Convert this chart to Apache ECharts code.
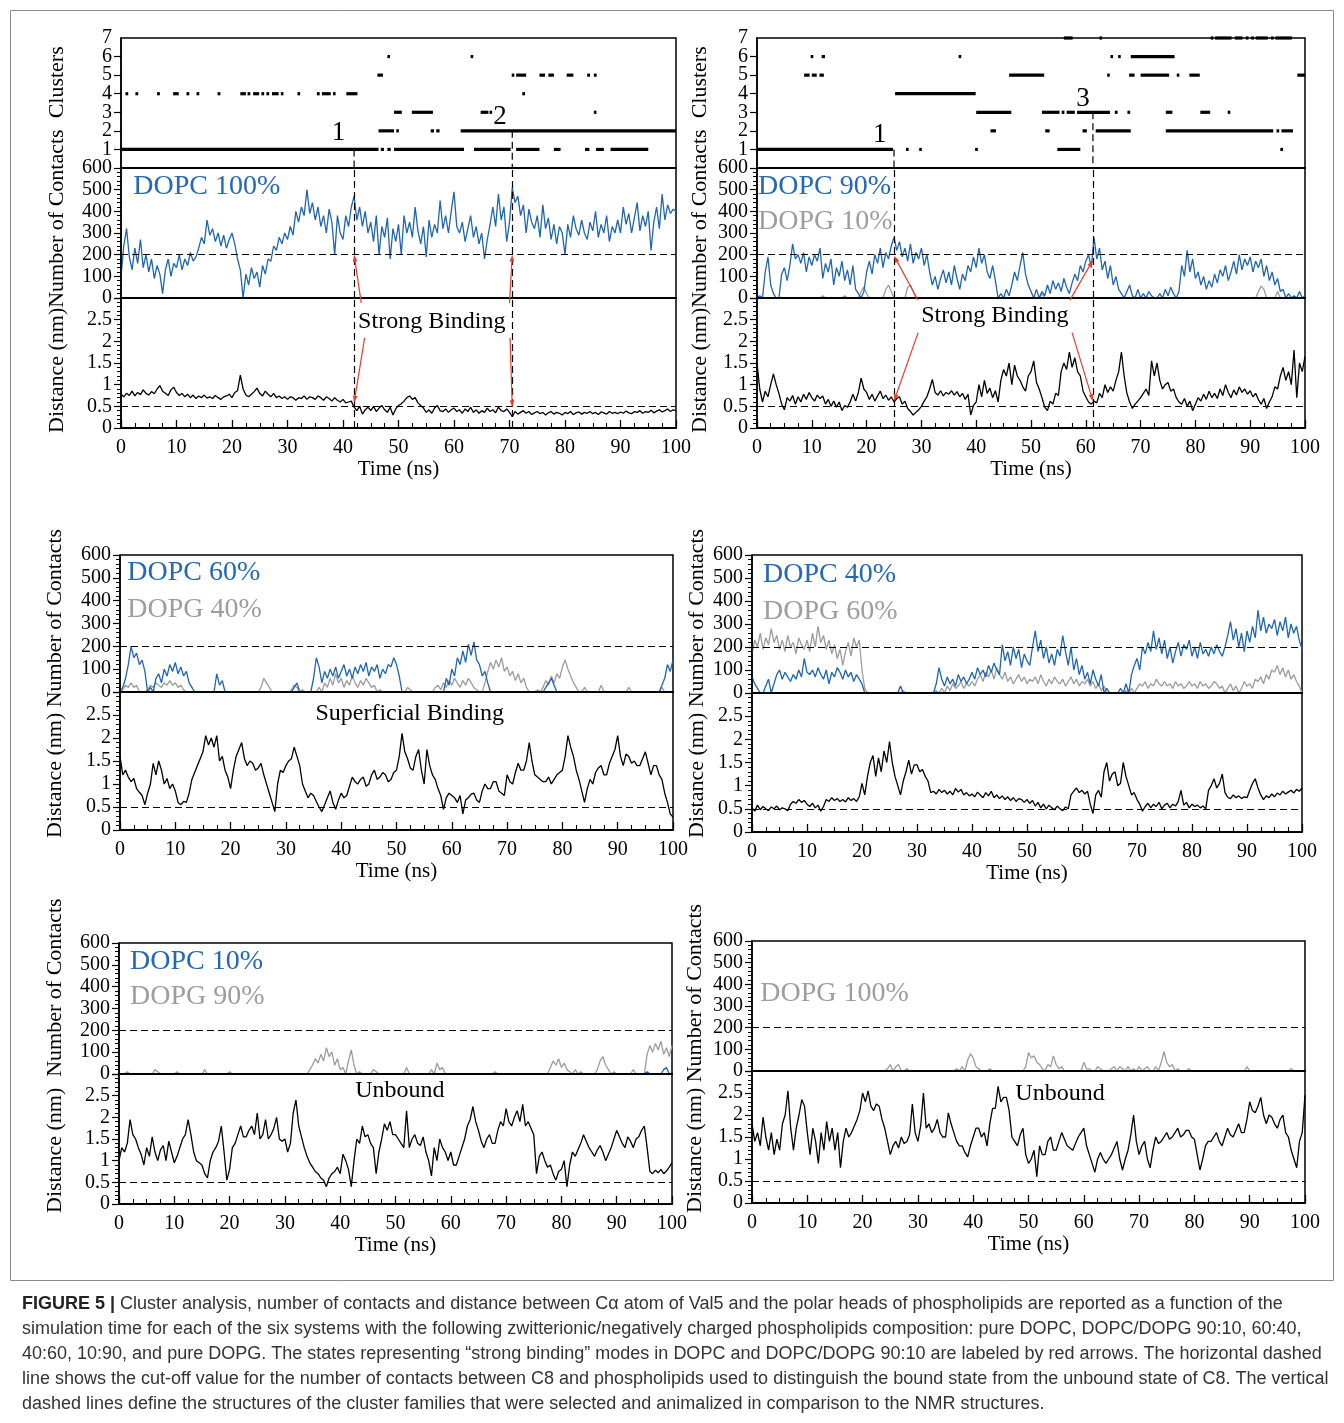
<!DOCTYPE html>
<html>
<head>
<meta charset="utf-8">
<script src="https://cdn.jsdelivr.net/npm/echarts@6/dist/echarts.min.js"></script>
<style>
  html, body { margin: 0; padding: 0; background: #fff; }
  #chart { width: 1344px; height: 1423px; }
</style>
</head>
<body>
<div id="chart"></div>
<script>
// Sampling interval of every trace (ns)
const STEP = 0.5;

// ---- Cluster membership: [start ns, end ns, cluster id] ----
const clustersDopc100 = [
  [0,46.4,1],[46.8,47.4,1],[48,48.6,1],[49.2,61.8,1],[63.6,70.2,1],[71.2,75.4,1],[78,79.2,1],[83.6,84.4,1],[85.6,87,1],[88.2,95,1],
  [46.4,49.2,2],[49.6,50,2],[55.8,56.4,2],[56.8,57.4,2],[61.2,100,2],
  [49.2,50.6,3],[52.4,56.2,3],[64.8,66.2,3],[66.4,66.8,3],[85.2,85.6,3],
  [0.8,1.3,4],[2.6,3.1,4],[6.5,7,4],[9.4,10.4,4],[11.8,12.3,4],[13.6,14.1,4],[17.4,17.9,4],[21.5,22.5,4],[22.8,23.3,4],[23.8,24.9,4],
  [25.3,25.8,4],[26.2,26.7,4],[27.2,28.4,4],[28.8,29.2,4],[31.8,32.2,4],[35.3,35.8,4],[36.2,37.8,4],[38.2,38.6,4],[40.6,42.6,4],[72.3,72.8,4],
  [46.2,47.2,5],[70.4,70.8,5],[71.2,73,5],[75.4,76.4,5],[77,78,5],[80.3,81.5,5],[84,84.5,5],[85.2,85.7,5],
  [48,48.4,6],[63,63.4,6]
];
const clustersDopc90 = [
  [0,24.8,1],[27.2,27.6,1],[29.6,30,1],[39.8,40.3,1],[54.8,59,1],[95.5,96,1],
  [42.6,43.6,2],[52.6,53.4,2],[59.4,60.2,2],[61.8,68.2,2],[74.6,94.2,2],[94.8,95.3,2],[95.7,97.8,2],
  [40,46.4,3],[52,55.2,3],[55.6,56.1,3],[56.5,58,3],[58.4,64.4,3],[65.3,65.8,3],[67.6,68.1,3],[74.6,75.8,3],[80.9,82.7,3],[85.9,86.3,3],
  [25.2,39.9,4],
  [8.6,9.6,5],[10,10.9,5],[11.4,12.2,5],[46,52.4,5],[63.9,64.3,5],[67.9,68.9,5],[70,75.2,5],[76.6,77,5],[78.9,80.8,5],[98.6,100,5],
  [9.8,10.2,6],[11.8,12.4,6],[36.8,37.2,6],[64.5,64.9,6],[65.9,66.3,6],[68.2,76.2,6],
  [56,57.6,7],[62.5,62.9,7],[82.8,83.2,7],[83.6,86.6,7],[87.2,88.6,7],[89.2,89.6,7],[90.2,90.6,7],[91,93.2,7],[93.8,94.2,7],[94.6,97.6,7]
];
const clusterIds = [1, 2, 3, 4, 5, 6, 7];

// ---- DOPC 100% ----
const dopc100Contacts = [
  100,240,320,190,130,230,160,270,140,200,
  120,180,90,150,110,20,130,180,100,160,
  140,200,130,180,150,210,170,190,230,280,
  250,360,290,320,260,300,240,290,230,270,
  300,250,180,130,0,110,60,140,90,120,
  50,150,110,180,170,240,220,280,250,300,
  270,330,290,400,350,420,380,500,390,440,
  360,420,330,380,300,410,350,200,380,300,
  270,380,330,420,470,360,420,330,400,300,
  350,260,380,200,330,280,370,180,320,260,
  340,200,380,300,350,280,420,310,250,330,
  190,360,280,340,300,450,320,380,300,400,
  490,330,300,350,260,320,380,280,330,250,
  300,180,270,340,420,330,480,360,420,260,
  350,510,440,470,380,430,300,410,350,320,
  380,280,430,320,370,270,340,250,330,300,
  200,340,280,380,320,290,360,300,270,350,
  310,400,280,340,300,380,260,330,300,360,
  300,420,340,390,300,370,440,310,380,330,
  400,220,350,420,320,480,360,430,390,410,
  400
];
const dopc100Distance = [
  0.78,0.72,0.80,0.75,0.85,0.74,0.82,0.77,0.88,0.80,
  0.76,0.84,0.79,0.90,0.98,0.85,0.80,0.75,0.88,0.94,
  0.82,0.75,0.80,0.72,0.78,0.70,0.76,0.68,0.74,0.70,
  0.76,0.69,0.72,0.68,0.75,0.70,0.66,0.72,0.74,0.78,
  0.70,0.82,0.86,1.22,0.90,0.76,0.72,0.78,0.84,0.92,
  0.80,0.74,0.85,0.78,0.72,0.80,0.70,0.74,0.68,0.72,
  0.66,0.72,0.70,0.64,0.70,0.68,0.74,0.66,0.72,0.70,
  0.66,0.74,0.70,0.64,0.72,0.68,0.62,0.70,0.64,0.60,
  0.66,0.58,0.60,0.62,0.48,0.40,0.50,0.32,0.42,0.48,
  0.40,0.50,0.38,0.46,0.52,0.42,0.36,0.48,0.30,0.44,
  0.52,0.56,0.62,0.70,0.74,0.66,0.70,0.58,0.52,0.46,
  0.36,0.42,0.34,0.46,0.52,0.40,0.38,0.44,0.36,0.42,
  0.46,0.38,0.42,0.34,0.44,0.38,0.48,0.36,0.42,0.34,
  0.40,0.36,0.46,0.38,0.42,0.35,0.48,0.40,0.38,0.44,
  0.36,0.26,0.38,0.32,0.36,0.40,0.34,0.38,0.31,0.35,
  0.38,0.33,0.36,0.30,0.35,0.38,0.32,0.36,0.34,0.30,
  0.36,0.33,0.38,0.31,0.35,0.37,0.32,0.36,0.34,0.38,
  0.33,0.36,0.31,0.37,0.35,0.32,0.38,0.34,0.36,0.33,
  0.37,0.34,0.39,0.35,0.33,0.38,0.36,0.40,0.34,0.38,
  0.36,0.41,0.35,0.39,0.42,0.37,0.40,0.44,0.38,0.42,
  0.40
];

// ---- DOPC 90% / DOPG 10% ----
const dopc90Contacts = [
  0,10,0,120,190,60,20,0,0,110,
  140,80,150,250,180,200,160,210,120,190,
  150,200,170,230,90,160,120,180,60,140,
  100,170,80,130,60,150,40,20,0,30,
  120,170,110,200,160,230,140,210,180,240,
  280,220,260,190,230,170,250,160,210,180,
  230,150,200,120,60,100,40,90,130,70,
  120,60,150,90,40,110,80,150,120,190,
  140,230,160,200,120,90,150,80,0,20,
  0,40,10,60,120,80,150,210,110,60,
  30,0,40,0,30,10,60,20,80,40,
  70,30,90,50,20,70,110,80,150,120,
  170,200,140,280,180,230,130,170,90,150,
  60,100,40,20,0,30,60,10,0,40,
  0,20,0,30,10,0,0,20,0,40,
  10,50,20,0,30,150,100,220,120,180,
  90,120,60,100,40,80,50,110,70,130,
  100,150,80,120,170,110,200,130,180,150,
  190,120,170,140,180,100,150,80,120,60,
  90,30,40,0,20,0,10,0,30,0,
  10
];
const dopg10Contacts = [
  0,0,0,0,0,0,0,0,0,0,
  0,0,0,0,0,0,0,0,0,0,
  0,0,0,0,10,0,0,0,0,0,
  0,0,10,0,0,0,0,0,30,50,
  20,0,0,0,0,0,0,40,60,30,
  0,0,0,0,0,50,60,30,0,0,
  0,0,0,0,0,0,0,0,0,0,
  0,0,0,0,0,0,0,0,0,0,
  0,0,0,0,0,0,0,0,0,0,
  0,0,0,0,0,0,0,0,0,0,
  0,0,0,0,20,0,0,0,0,0,
  0,0,0,0,0,0,0,0,0,0,
  0,0,0,0,0,0,0,0,0,0,
  0,0,0,0,0,0,0,0,0,0,
  0,0,0,0,0,0,0,0,0,0,
  0,0,0,0,0,0,0,0,0,0,
  0,0,0,0,0,0,0,0,0,0,
  0,0,0,0,0,0,0,0,0,0,
  0,0,0,30,55,40,0,0,0,0,
  30,0,0,0,0,0,0,0,0,0,
  0
];
const dopc90Distance = [
  1.50,0.90,0.60,0.85,0.72,1.00,1.25,1.00,0.80,0.55,
  0.42,0.70,0.62,0.75,0.55,0.72,0.60,0.78,0.66,0.82,
  0.70,0.62,0.76,0.68,0.74,0.55,0.66,0.50,0.62,0.48,
  0.60,0.40,0.52,0.48,0.60,0.78,0.62,0.82,1.15,0.90,
  0.82,0.66,0.78,0.62,0.74,0.85,0.68,0.76,0.64,0.72,
  0.60,0.68,0.72,0.55,0.62,0.45,0.38,0.30,0.36,0.42,
  0.50,0.62,0.72,0.90,1.12,0.82,0.76,0.86,0.74,0.82,
  0.78,0.86,0.76,0.84,0.72,0.80,0.66,0.78,0.30,0.52,
  0.60,1.00,0.72,1.10,0.80,0.92,0.70,0.86,0.60,1.10,
  1.35,1.20,1.50,1.00,1.45,1.20,1.10,0.95,0.85,1.20,
  1.30,1.55,1.05,0.90,0.70,0.48,0.40,0.62,0.55,0.80,
  0.75,1.30,1.50,1.35,1.75,1.40,1.62,1.30,1.20,0.85,
  0.72,0.60,0.55,0.62,0.58,0.80,0.70,1.00,0.82,0.95,
  0.85,1.10,1.30,1.75,1.20,0.80,0.60,0.45,0.55,0.62,
  0.70,0.80,0.90,0.75,1.55,1.20,1.50,1.10,0.90,1.00,
  1.05,0.85,0.90,0.70,0.60,0.55,0.68,0.50,0.62,0.40,
  0.55,0.70,0.62,0.78,0.66,0.85,0.70,0.80,0.68,0.90,
  0.75,1.00,0.82,0.70,0.88,0.76,0.95,0.82,0.90,0.78,
  0.86,0.72,0.80,0.65,0.55,0.68,0.45,0.60,0.72,0.95,
  0.90,1.20,1.40,1.10,1.30,1.00,1.80,0.70,1.50,1.30,
  1.65
];

// ---- DOPC 60% / DOPG 40% ----
const dopc60Contacts = [
  0,20,60,120,200,150,170,120,140,90,
  0,20,0,60,80,40,100,70,120,90,
  130,80,110,70,90,40,20,0,0,0,
  0,0,0,0,0,80,30,50,0,0,
  0,0,0,0,0,0,0,0,0,0,
  0,0,0,0,0,0,0,0,0,0,
  0,0,0,20,40,0,0,0,0,0,
  60,150,110,40,90,60,100,70,110,60,
  90,120,70,100,60,110,80,120,90,130,
  70,110,90,120,60,100,80,120,110,150,
  120,70,0,0,0,0,0,0,0,0,
  0,0,0,0,0,0,0,0,60,30,
  100,70,150,120,180,130,210,160,220,140,
  120,70,90,40,0,0,0,0,0,0,
  0,0,0,0,0,0,0,0,0,0,
  0,0,0,0,20,40,60,30,0,0,
  0,0,0,0,0,0,0,0,0,0,
  0,0,0,0,0,0,0,0,0,0,
  0,0,0,0,0,0,0,0,0,0,
  0,0,0,0,0,0,30,60,120,90,
  140
];
const dopg40Contacts = [
  0,10,30,20,40,20,30,0,0,0,
  10,30,20,40,30,20,40,30,50,30,
  40,20,30,10,0,0,0,0,0,0,
  0,0,0,0,0,0,0,0,0,0,
  0,0,0,0,0,0,0,0,0,0,
  0,20,60,40,20,0,0,0,0,0,
  0,0,10,30,20,0,10,0,0,0,
  0,0,20,0,40,20,60,30,80,40,
  60,20,50,30,70,40,20,50,30,60,
  40,20,30,0,10,0,0,0,0,0,
  0,0,0,0,20,10,0,0,0,0,
  0,0,0,0,20,30,10,40,20,50,
  30,60,40,20,50,30,60,40,20,10,
  0,0,40,90,130,100,140,110,150,90,
  110,70,90,50,80,40,60,20,0,0,
  0,10,0,20,50,30,70,40,80,60,
  110,140,100,70,40,20,0,0,20,0,
  0,0,0,0,30,0,0,0,0,0,
  0,0,0,0,20,0,0,0,0,0,
  0,0,0,0,0,0,20,0,0,0,
  0
];
const dopc60Distance = [
  1.60,1.20,1.30,1.15,1.05,1.12,0.90,0.82,0.75,0.55,
  0.80,1.00,1.45,1.20,1.50,1.30,1.00,1.12,0.90,1.00,
  0.85,0.60,0.55,0.62,0.60,0.80,1.10,1.25,1.40,1.55,
  1.70,2.05,1.85,2.00,1.80,2.05,1.50,1.60,1.30,1.15,
  0.90,1.30,1.60,1.75,1.90,1.55,1.40,1.50,1.45,1.30,
  1.35,1.45,1.20,1.00,0.80,0.60,0.40,1.00,1.30,1.25,
  1.40,1.50,1.55,1.80,1.60,1.40,1.00,0.85,0.70,0.80,
  0.75,0.62,0.50,0.40,0.55,0.70,0.85,0.60,0.45,0.65,
  0.80,0.70,0.75,0.95,1.15,1.05,1.00,1.10,1.15,0.95,
  1.00,1.20,1.30,1.10,1.15,1.25,1.20,1.05,1.10,1.25,
  1.30,1.60,2.10,1.70,1.55,1.35,1.30,1.60,1.75,1.30,
  1.00,1.75,1.40,1.20,1.10,0.90,0.75,0.45,0.70,0.80,
  0.75,0.70,0.60,0.75,0.35,0.65,0.70,0.78,0.80,0.65,
  0.60,0.85,1.00,0.90,0.90,1.05,1.05,0.85,0.80,0.75,
  1.20,1.05,1.00,1.25,1.45,1.30,1.30,1.50,1.90,1.50,
  1.20,1.15,1.10,1.05,1.05,1.15,1.00,1.10,1.20,1.25,
  1.30,1.60,2.05,1.80,1.60,1.30,1.10,0.85,0.60,0.90,
  1.10,1.00,1.25,1.35,1.40,1.20,1.20,1.45,1.60,1.75,
  2.05,1.60,1.40,1.65,1.60,1.45,1.50,1.40,1.40,1.55,
  1.70,1.45,1.20,1.40,1.40,1.20,1.10,0.80,0.60,0.35,
  0.28
];

// ---- DOPC 40% / DOPG 60% ----
const dopc40Contacts = [
  70,40,20,0,0,30,60,0,40,80,
  100,60,90,70,50,80,60,100,70,150,
  90,80,100,70,110,80,60,100,40,90,
  70,110,90,60,100,70,90,50,80,60,
  40,0,0,0,0,0,0,0,0,0,
  0,0,0,0,30,0,0,0,0,0,
  0,0,0,0,0,0,0,40,110,60,
  30,70,40,60,30,80,50,70,40,60,
  90,60,110,80,100,70,120,90,130,100,
  80,210,140,180,120,200,150,190,110,170,
  140,120,200,270,180,230,150,200,130,170,
  120,190,160,250,180,120,200,100,150,80,
  120,60,90,40,100,60,30,80,0,20,
  0,0,0,0,20,0,40,0,80,120,
  150,100,200,170,220,180,270,190,240,170,
  230,150,200,130,180,220,160,210,190,230,
  160,200,150,220,170,190,160,200,170,210,
  180,160,200,250,310,230,280,200,260,180,
  270,220,290,240,360,270,330,260,300,280,
  320,250,310,270,330,240,300,260,290,230,
  190
];
const dopg60Contacts = [
  170,230,200,260,190,240,210,280,220,250,
  190,230,180,250,200,220,170,240,210,190,
  230,180,260,200,290,220,250,190,230,170,
  210,150,190,120,180,220,160,240,200,230,
  100,20,0,0,0,0,0,0,0,0,
  0,0,0,0,0,10,0,0,0,0,
  0,0,0,0,0,0,0,10,0,20,
  0,30,10,40,20,30,50,20,40,30,
  50,30,60,80,50,90,70,100,60,110,
  80,60,90,50,70,40,60,80,50,70,
  40,60,50,70,40,80,50,30,60,40,
  70,50,40,60,30,50,70,40,60,30,
  50,40,60,30,50,20,40,10,30,0,
  0,0,0,0,0,0,10,0,20,0,
  20,40,30,50,20,40,30,60,40,30,
  50,30,40,20,50,30,40,20,30,50,
  30,40,20,50,30,40,20,30,50,40,
  20,30,0,20,40,10,30,0,20,50,
  30,40,20,60,50,70,40,80,60,100,
  90,120,80,110,70,100,60,80,50,30,
  0
];
const dopc40Distance = [
  0.52,0.45,0.58,0.48,0.55,0.50,0.46,0.54,0.50,0.56,
  0.48,0.52,0.50,0.46,0.60,0.66,0.62,0.70,0.64,0.68,
  0.60,0.55,0.62,0.52,0.58,0.45,0.55,0.70,0.66,0.74,
  0.68,0.72,0.66,0.70,0.65,0.74,0.68,0.72,0.66,0.76,
  1.05,0.80,1.20,1.50,1.65,1.20,1.60,1.30,1.75,1.50,
  1.95,1.50,1.20,1.00,0.80,1.10,1.30,1.55,1.25,1.45,
  1.45,1.30,1.35,1.20,1.10,0.85,0.88,0.82,0.92,0.85,
  0.90,0.82,0.88,0.80,0.94,0.86,0.92,0.80,0.85,0.78,
  0.82,0.76,0.86,0.80,0.74,0.85,0.78,0.88,0.74,0.80,
  0.72,0.78,0.70,0.76,0.68,0.74,0.66,0.72,0.70,0.64,
  0.70,0.62,0.68,0.56,0.64,0.52,0.60,0.50,0.58,0.52,
  0.48,0.56,0.50,0.46,0.54,0.50,0.80,0.88,0.95,0.85,
  0.90,0.82,0.88,0.60,0.40,0.80,0.90,0.75,1.30,1.50,
  1.10,1.25,1.30,1.00,1.05,1.50,1.20,1.00,0.80,0.85,
  0.70,0.60,0.45,0.55,0.62,0.52,0.60,0.55,0.64,0.50,
  0.58,0.62,0.52,0.60,0.56,0.66,0.90,0.58,0.64,0.52,
  0.60,0.55,0.58,0.52,0.56,0.50,0.90,1.00,1.15,0.95,
  1.05,1.25,0.85,0.75,0.72,0.80,0.74,0.78,0.72,0.76,
  0.74,0.90,1.05,1.15,0.95,0.80,0.70,0.78,0.74,0.82,
  0.76,0.84,0.80,0.88,0.82,0.86,0.90,0.84,0.92,0.88,
  0.95
];

// ---- DOPC 10% / DOPG 90% ----
const dopc10Contacts = [
  0,0,0,0,0,0,0,0,0,0,
  0,0,0,0,0,0,0,0,0,0,
  0,0,0,0,0,0,0,0,0,0,
  0,0,0,0,0,0,0,0,0,0,
  0,0,0,0,0,0,0,0,0,0,
  0,0,0,0,0,0,0,0,0,0,
  0,0,0,0,0,0,0,0,0,0,
  0,0,0,0,0,0,0,0,0,0,
  0,0,0,0,0,0,0,0,0,0,
  0,0,0,0,0,0,0,0,0,0,
  0,0,0,0,0,0,0,0,0,0,
  0,0,0,0,0,0,0,0,0,0,
  0,0,0,0,0,0,0,0,0,0,
  0,0,0,0,0,0,0,0,0,0,
  0,0,0,0,0,0,0,0,0,0,
  0,0,0,0,0,0,0,0,0,0,
  0,0,0,0,0,0,0,0,0,0,
  0,0,0,0,0,0,0,0,0,0,
  0,0,0,0,0,0,0,0,0,0,
  0,10,0,0,0,0,0,20,30,0,
  0
];
const dopg90Contacts = [
  0,0,0,10,0,0,0,0,0,0,
  0,0,0,20,10,0,0,0,0,0,
  0,10,0,0,0,0,0,0,0,0,
  0,20,0,0,0,0,0,0,0,0,
  10,0,0,0,0,0,0,0,0,0,
  0,0,0,0,0,0,0,0,0,0,
  0,0,0,0,0,0,0,0,0,20,
  40,70,50,90,60,120,80,100,40,70,
  20,30,0,60,110,40,0,10,0,0,
  0,0,20,10,0,0,0,0,0,0,
  0,0,0,0,30,0,0,0,0,0,
  0,0,0,20,0,50,20,30,0,0,
  0,0,0,0,0,0,0,0,0,0,
  0,0,0,0,0,0,10,0,0,0,
  0,0,0,0,0,0,0,0,0,0,
  0,0,0,0,0,0,30,60,40,70,
  30,50,20,10,0,20,0,10,0,0,
  0,0,0,20,60,80,40,20,0,10,
  0,0,0,0,0,0,20,0,0,0,
  0,90,130,100,140,110,150,90,120,80,
  130
];
const dopc10Distance = [
  1.00,1.30,1.20,1.40,1.95,1.60,1.50,1.30,1.15,0.90,
  1.30,1.10,1.55,1.20,1.00,1.25,1.35,1.00,1.45,1.20,
  0.95,1.10,1.30,1.50,1.60,1.95,1.60,1.20,1.00,0.95,
  0.90,0.70,0.60,1.00,1.20,1.30,1.45,1.80,1.20,0.55,
  0.80,1.30,1.40,1.60,1.80,1.55,1.55,1.70,1.80,1.60,
  2.10,1.50,1.60,1.95,1.50,1.60,1.75,2.00,1.50,1.45,
  1.50,1.20,1.40,2.10,2.40,1.80,1.55,1.30,1.10,0.95,
  0.85,0.75,0.70,0.60,0.55,0.40,0.60,0.70,0.75,0.85,
  0.70,1.15,1.00,0.80,0.40,1.00,1.50,1.40,1.80,1.55,
  1.60,1.40,1.30,0.70,1.20,1.50,1.85,1.70,1.90,1.60,
  1.60,1.50,1.40,1.30,2.15,1.30,1.50,1.60,1.40,1.35,
  1.55,1.20,1.00,0.65,1.30,1.00,1.50,1.30,1.20,1.00,
  1.20,0.90,0.90,1.10,1.30,1.50,1.80,1.95,2.25,1.90,
  1.70,1.45,1.30,1.50,1.60,1.40,1.40,1.70,1.90,1.80,
  2.20,1.90,1.80,2.00,2.15,1.90,2.30,1.80,1.90,1.75,
  1.60,0.70,1.10,1.20,1.00,0.85,0.90,0.70,0.55,0.75,
  0.80,1.00,0.40,0.90,1.20,1.10,1.25,1.40,1.60,1.45,
  1.30,1.20,1.10,1.25,1.35,1.20,1.00,1.15,1.30,1.50,
  1.70,1.55,1.40,1.30,1.55,1.45,1.30,1.50,1.55,1.70,
  1.80,1.30,0.75,0.70,0.78,0.72,0.80,0.70,0.76,0.85,
  0.95
];

// ---- DOPG 100% ----
const dopg100Contacts = [
  0,0,0,0,0,0,0,0,0,0,
  0,0,0,0,0,0,0,0,0,0,
  0,0,0,0,0,0,0,0,0,0,
  0,0,0,0,0,0,0,0,0,0,
  0,0,0,0,0,0,0,0,0,10,
  30,0,20,30,0,0,10,0,0,0,
  0,0,0,0,0,0,0,0,0,0,
  0,0,0,0,10,0,20,0,50,80,
  60,20,10,0,0,0,10,0,0,0,
  0,0,0,0,0,0,0,0,0,20,
  85,60,70,40,30,10,0,30,20,70,
  30,10,20,0,0,0,0,0,0,0,
  40,10,10,0,0,20,10,0,0,0,
  10,20,0,20,10,0,20,0,10,0,
  20,0,10,20,0,0,20,0,40,90,
  40,20,30,0,10,0,0,0,10,0,
  0,0,0,0,0,0,0,0,0,0,
  0,0,0,0,0,0,0,0,0,20,
  0,0,0,0,0,0,0,0,0,0,
  0,0,0,0,0,10,0,0,0,0,
  0
];
const dopg100Distance = [
  1.80,1.40,1.60,1.30,1.95,1.50,1.20,1.60,1.10,1.45,
  1.20,1.80,2.00,2.55,1.70,1.20,1.70,2.00,2.35,2.20,
  1.60,1.10,1.70,1.40,0.90,1.60,1.20,1.85,1.40,1.70,
  1.20,1.60,0.80,1.40,1.70,1.50,1.60,1.75,1.90,2.10,
  2.50,2.30,2.55,2.20,2.10,2.25,2.20,1.90,1.70,1.40,
  1.10,1.30,1.40,1.25,1.50,1.35,1.40,1.55,2.25,1.60,
  1.40,1.75,2.50,1.70,1.80,1.60,1.70,1.90,1.60,1.50,
  1.50,2.05,1.80,1.60,1.40,1.30,1.30,1.15,1.05,1.30,
  1.50,1.70,1.70,1.50,1.60,1.30,1.80,2.15,2.15,2.65,
  2.30,2.40,2.40,2.10,1.50,1.40,1.30,1.55,1.70,1.10,
  0.90,1.00,1.20,0.60,1.30,1.10,1.10,1.40,1.50,1.20,
  1.20,1.40,1.60,1.45,1.30,1.25,1.20,1.35,1.50,1.60,
  1.70,1.30,1.10,0.90,0.70,1.00,1.15,1.00,0.90,1.00,
  1.10,1.25,1.40,1.00,0.75,1.00,1.20,1.55,2.00,1.40,
  1.10,1.30,1.40,1.00,0.80,1.20,1.50,1.35,1.40,1.50,
  1.60,1.45,1.50,1.60,1.70,1.50,1.55,1.65,1.65,1.50,
  1.45,1.10,0.75,1.00,1.30,1.40,1.40,1.50,1.60,1.40,
  1.30,1.50,1.70,1.55,1.50,1.65,1.80,1.60,1.60,1.90,
  2.30,2.10,2.05,2.20,2.40,2.00,1.80,2.00,1.95,1.80,
  1.70,1.90,2.00,1.60,1.50,1.20,1.00,0.80,1.40,1.60,
  2.45
];

// Cut-offs and selected structures
const contactCutoff = 200;
const distanceCutoff = 0.5;
const selectedDopc100 = [[42, 1], [70.5, 2]];   // [time, cluster]
const selectedDopc90 = [[25, 1], [61.3, 3]];

// ---------------------------------------------------------------
const SERIF = '"Liberation Serif", "Times New Roman", serif';
const SANS = '"Liberation Sans", Arial, sans-serif';
const BLUE = '#1f65b3';
const GRAY = '#9c9c9c';
const BLUE_TXT = '#2468b6';
const GRAY_TXT = '#9d9d9d';
const Y_LABEL_MARGIN = 9;

// grid boxes: [left, top, width, height]
const boxes = [
  [121, 38, 555, 130], [121, 168, 555, 130], [121, 298, 555, 130],
  [757, 38, 548, 130], [757, 168, 548, 130], [757, 298, 548, 130],
  [120, 555, 553, 137], [120, 692, 553, 138],
  [752, 555, 550, 138], [752, 693, 550, 139],
  [119, 943, 553, 131], [119, 1074, 553, 130],
  [752, 941, 553, 130], [752, 1071, 553, 132]
];
const kinds = ['clusters','contacts','distance','clusters','contacts','distance',
  'contacts','distance','contacts','distance','contacts','distance','contacts','distance'];

const pairs = arr => arr.map((v, i) => [i * STEP, v]);

const grids = boxes.map(b => ({
  left: b[0], top: b[1], width: b[2], height: b[3],
  show: true, borderColor: '#000', borderWidth: 1.5, backgroundColor: 'transparent'
}));

const xAxes = kinds.map((k, g) => {
  const lab = k === 'distance';
  return {
    type: 'value', gridIndex: g, min: 0, max: 100, interval: 10, z: 5,
    axisLine: { show: true, onZero: false, lineStyle: { color: '#000', width: 2 } },
    axisTick: { show: lab, inside: true, length: 8, lineStyle: { color: '#000', width: 1.3 } },
    minorTick: { show: lab, splitNumber: 4, length: 5, lineStyle: { color: '#000', width: 1.1 } },
    axisLabel: { show: lab, fontFamily: SERIF, fontSize: 20, color: '#000', margin: 10,
      showMinLabel: true, showMaxLabel: true, hideOverlap: false },
    splitLine: { show: false },
    name: lab ? 'Time (ns)' : '', nameLocation: 'middle', nameGap: 28,
    nameTextStyle: { fontFamily: SERIF, fontSize: 21, color: '#000' }
  };
});

const yAxes = kinds.map((k, g) => {
  const base = {
    type: 'value', gridIndex: g, z: 5, splitLine: { show: false },
    axisLine: { show: true, lineStyle: { color: '#000', width: 1.5 } },
    axisTick: { show: true, inside: false, length: 7, lineStyle: { color: '#000', width: 1.2 } },
    minorTick: { show: true, splitNumber: 5, length: 4, lineStyle: { color: '#000', width: 1 } },
    axisLabel: { fontFamily: SERIF, fontSize: 20, color: '#000', margin: Y_LABEL_MARGIN,
      showMinLabel: true, showMaxLabel: true, hideOverlap: false }
  };
  if (k === 'clusters') {
    // top cluster id is written separately so that the tightly packed ids all stay visible
    return Object.assign(base, { min: 0, max: 7, interval: 1, minorTick: { show: false },
      axisLabel: Object.assign(base.axisLabel, { showMaxLabel: false, showMinLabel: false,
        formatter: v => (v === 0 || v === 7) ? '' : String(v) }) });
  }
  if (k === 'contacts') {
    return Object.assign(base, { min: 0, max: 600, interval: 100 });
  }
  return Object.assign(base, { min: 0, max: 3, interval: 0.5,
    axisLabel: Object.assign(base.axisLabel, { formatter: v => v === 3 ? '' : String(v) }) });
});

const series = [];
const dashed = { color: '#000', type: [7, 4], width: 1.2 };

function guideLines(kind, guides) {
  const data = [{ yAxis: kind === 'contacts' ? contactCutoff : distanceCutoff }];
  guides.forEach(gd => data.push({ xAxis: gd[0] }));
  return { silent: true, symbol: 'none', label: { show: false }, lineStyle: dashed,
    emphasis: { disabled: true }, animation: false, data };
}

function addLine(g, values, color, markLine) {
  const s = {
    type: 'line', xAxisIndex: g, yAxisIndex: g, data: pairs(values),
    showSymbol: false, symbol: 'none', animation: false, z: 2,
    lineStyle: { color, width: 1.3 }, itemStyle: { color }, emphasis: { disabled: true }
  };
  if (markLine) s.markLine = markLine;
  series.push(s);
}

function addClusters(g, segs, guides) {
  series.push({
    type: 'custom', xAxisIndex: g, yAxisIndex: g, data: segs, animation: false, z: 3,
    encode: { x: [0, 1], y: 2 },
    renderItem: (params, api) => {
      const a = api.coord([api.value(0), api.value(2)]);
      const b = api.coord([api.value(1), api.value(2)]);
      return { type: 'rect', shape: { x: a[0], y: a[1] - 1.6, width: Math.max(b[0] - a[0], 2.6), height: 3.2 },
        style: { fill: '#000' } };
    }
  });
  guides.forEach(gd => {
    series.push({
      type: 'line', xAxisIndex: g, yAxisIndex: g, data: [[gd[0], gd[1]], [gd[0], 0]],
      showSymbol: false, symbol: 'none', animation: false, lineStyle: dashed, emphasis: { disabled: true }
    });
  });
}

// DOPC 100%
addClusters(0, clustersDopc100, selectedDopc100);
addLine(1, dopc100Contacts, BLUE, guideLines('contacts', selectedDopc100));
addLine(2, dopc100Distance, '#000', guideLines('distance', selectedDopc100));
// DOPC 90% / DOPG 10%
addClusters(3, clustersDopc90, selectedDopc90);
addLine(4, dopg10Contacts, GRAY);
addLine(4, dopc90Contacts, BLUE, guideLines('contacts', selectedDopc90));
addLine(5, dopc90Distance, '#000', guideLines('distance', selectedDopc90));
// DOPC 60% / DOPG 40%
addLine(6, dopg40Contacts, GRAY);
addLine(6, dopc60Contacts, BLUE, guideLines('contacts', []));
addLine(7, dopc60Distance, '#000', guideLines('distance', []));
// DOPC 40% / DOPG 60%
addLine(8, dopg60Contacts, GRAY);
addLine(8, dopc40Contacts, BLUE, guideLines('contacts', []));
addLine(9, dopc40Distance, '#000', guideLines('distance', []));
// DOPC 10% / DOPG 90%
addLine(10, dopg90Contacts, GRAY);
addLine(10, dopc10Contacts, BLUE, guideLines('contacts', []));
addLine(11, dopc10Distance, '#000', guideLines('distance', []));
// DOPG 100%
addLine(12, dopg100Contacts, GRAY, guideLines('contacts', []));
addLine(13, dopg100Distance, '#000', guideLines('distance', []));

const chart = echarts.init(document.getElementById('chart'), null, { renderer: 'canvas' });
chart.setOption({
  animation: false,
  backgroundColor: '#fff',
  grid: grids, xAxis: xAxes, yAxis: yAxes, series
});

// ---- annotations placed in data coordinates ----
const P = (g, p) => chart.convertToPixel({ gridIndex: g }, p);
const graphics = [];

function label(g, p, text, size, color, align, dx) {
  const [x, y] = P(g, p);
  graphics.push({ type: 'text', x: x + (dx || 0), y, silent: true, z: 20,
    style: { text, font: `${size}px ${SERIF}`, fill: color, textAlign: align || 'center', textVerticalAlign: 'middle' } });
}

function arrow(gA, a, gB, b) {
  const p = P(gA, a), q = P(gB, b);
  const ang = Math.atan2(q[1] - p[1], q[0] - p[0]);
  const L = 7, W = 2.3;
  const bx = q[0] - L * Math.cos(ang), by = q[1] - L * Math.sin(ang);
  const nx = -Math.sin(ang) * W, ny = Math.cos(ang) * W;
  graphics.push({ type: 'line', silent: true, z: 20,
    shape: { x1: p[0], y1: p[1], x2: bx, y2: by }, style: { stroke: '#ec3a2e', lineWidth: 1.2 } });
  graphics.push({ type: 'polygon', silent: true, z: 20,
    shape: { points: [[q[0], q[1]], [bx + nx, by + ny], [bx - nx, by - ny]] }, style: { fill: '#ec3a2e' } });
}

// top cluster id on both cluster axes
const topCluster = clusterIds[clusterIds.length - 1];
label(0, [0, topCluster], String(topCluster), 20, '#000', 'right', -Y_LABEL_MARGIN);
label(3, [0, topCluster], String(topCluster), 20, '#000', 'right', -Y_LABEL_MARGIN);

// composition labels
label(1, [2.2, 512], 'DOPC 100%', 28, BLUE_TXT, 'left');
label(4, [0.2, 512], 'DOPC 90%', 28, BLUE_TXT, 'left');
label(4, [0.2, 351], 'DOPG 10%', 28, GRAY_TXT, 'left');
label(6, [1.3, 521], 'DOPC 60%', 28, BLUE_TXT, 'left');
label(6, [1.3, 359], 'DOPG 40%', 28, GRAY_TXT, 'left');
label(8, [2.0, 513], 'DOPC 40%', 28, BLUE_TXT, 'left');
label(8, [2.0, 352], 'DOPG 60%', 28, GRAY_TXT, 'left');
label(10, [2.0, 513], 'DOPC 10%', 28, BLUE_TXT, 'left');
label(10, [2.0, 353], 'DOPG 90%', 28, GRAY_TXT, 'left');
label(12, [1.5, 355], 'DOPG 100%', 28, GRAY_TXT, 'left');

// binding-mode labels
label(2, [56, 2.45], 'Strong Binding', 24, '#000');
label(5, [43.4, 2.58], 'Strong Binding', 24, '#000');
label(7, [52.4, 2.52], 'Superficial Binding', 24, '#000');
label(11, [50.8, 2.61], 'Unbound', 24, '#000');
label(13, [55.7, 2.48], 'Unbound', 24, '#000');

// selected structure numbers
label(0, [39.2, 1.87], '1', 27, '#000');
label(0, [68.3, 2.73], '2', 27, '#000');
label(3, [22.4, 1.76], '1', 27, '#000');
label(3, [59.5, 3.74], '3', 27, '#000');

// red arrows towards the strongly bound states
arrow(2, [43.3, 2.88], 1, [selectedDopc100[0][0], contactCutoff]);
arrow(2, [43.9, 2.08], 2, [selectedDopc100[0][0], 0.58]);
arrow(2, [70.0, 2.88], 1, [selectedDopc100[1][0], contactCutoff]);
arrow(2, [70.1, 2.08], 2, [selectedDopc100[1][0], 0.48]);
arrow(5, [29.4, 2.95], 4, [selectedDopc90[0][0], 195]);
arrow(5, [29.4, 2.20], 5, [selectedDopc90[0][0], 0.62]);
arrow(5, [57.1, 2.95], 4, [selectedDopc90[1][0], 175]);
arrow(5, [57.5, 2.20], 5, [selectedDopc90[1][0], 0.62]);

// rotated y-axis titles (read bottom to top)
function vtitle(x, yStart, text) {
  graphics.push({ type: 'text', x, y: yStart, rotation: Math.PI / 2, silent: true, z: 20,
    style: { text, font: `22px ${SERIF}`, fill: '#000', textAlign: 'left', textVerticalAlign: 'middle' } });
}
vtitle(57, 433, 'Distance (nm)Number of Contacts  Clusters');
vtitle(700, 433, 'Distance (nm)Number of Contacts  Clusters');
vtitle(55, 838, 'Distance (nm) Number of Contacts');
vtitle(697, 838, 'Distance (nm) Number of Contacts');
vtitle(55, 1213, 'Distance (nm)  Number of Contacts');
vtitle(695, 1213, 'Distance (nm) Number of Contacts');

// figure frame
graphics.push({ type: 'rect', silent: true, z: 1,
  shape: { x: 10.5, y: 10.5, width: 1323, height: 1270 }, style: { fill: 'none', stroke: '#8a8a8a', lineWidth: 1 } });

// caption
const captionLines = [
  '{b|FIGURE 5 |} Cluster analysis, number of contacts and distance between Cα atom of Val5 and the polar heads of phospholipids are reported as a function of the',
  'simulation time for each of the six systems with the following zwitterionic/negatively charged phospholipids composition: pure DOPC, DOPC/DOPG 90:10, 60:40,',
  '40:60, 10:90, and pure DOPG. The states representing “strong binding” modes in DOPC and DOPC/DOPG 90:10 are labeled by red arrows. The horizontal dashed',
  'line shows the cut-off value for the number of contacts between C8 and phospholipids used to distinguish the bound state from the unbound state of C8. The vertical',
  'dashed lines define the structures of the cluster families that were selected and animalized in comparison to the NMR structures.'
];
captionLines.forEach((t, i) => {
  graphics.push({ type: 'text', x: 22, y: 1304 + i * 25, silent: true, z: 20,
    style: { text: t, font: `18px ${SANS}`, fill: '#333', textAlign: 'left', textVerticalAlign: 'middle',
      rich: { b: { font: `bold 18px ${SANS}`, fill: '#222' } } } });
});

chart.setOption({ graphic: graphics });
</script>
</body>
</html>
